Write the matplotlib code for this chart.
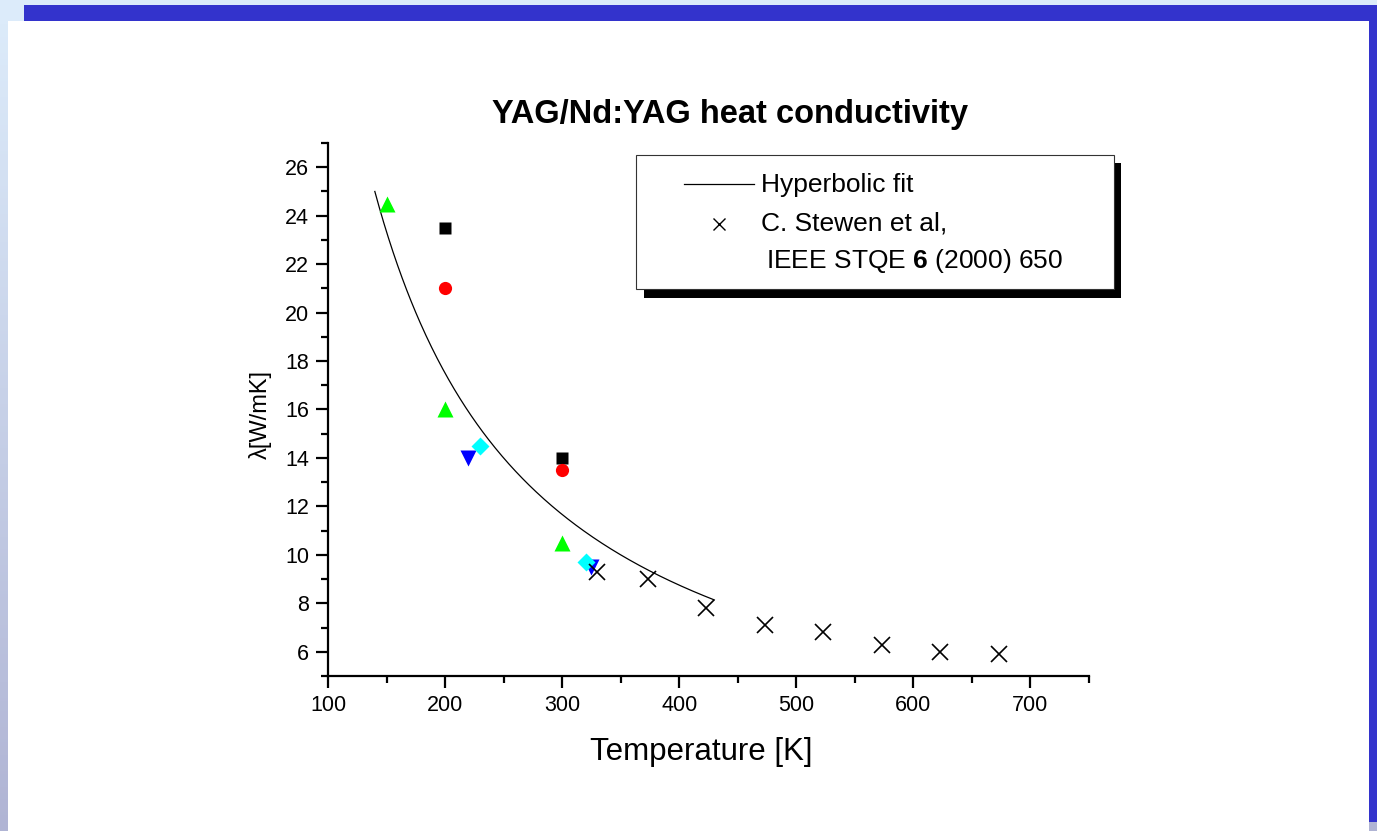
import numpy as np
import matplotlib
matplotlib.use("Agg")
import matplotlib.pyplot as plt
from matplotlib.patches import Rectangle
from matplotlib.lines import Line2D

plt.rcParams['font.family'] = ['Liberation Sans', 'DejaVu Sans']
plt.rcParams['mathtext.fontset'] = 'custom'
plt.rcParams['mathtext.rm'] = 'Liberation Sans'
plt.rcParams['mathtext.bf'] = 'Liberation Sans:bold'

# measured points, temperature [K] vs conductivity [W/mK]
sq_T = [200, 300]
sq_k = [23.5, 14.0]
circ_T = [200, 300]
circ_k = [21.0, 13.5]
up_T = [150, 200, 300]
up_k = [24.5, 16.0, 10.5]
down_T = [220, 325]
down_k = [14.0, 9.5]
dia_T = [230, 320]
dia_k = [14.5, 9.7]

# C. Stewen et al. data
stewen_T = [330, 373, 423, 473, 523, 573, 623, 673]
stewen_k = [9.3, 9.0, 7.8, 7.1, 6.8, 6.3, 6.0, 5.9]

# hyperbolic fit  k = A / T
fit_A = 3500.0
fit_Tmin, fit_Tmax = 140, 430

W, H = 1377, 831
fig = plt.figure(figsize=(W / 100, H / 100), dpi=100)
fig.patch.set_facecolor('white')


def fx(x):
    return x / W


def fy(y):
    return 1 - y / H


def prect(x0, y0, x1, y1, color, z=0):
    fig.add_artist(Rectangle((fx(x0), fy(y1)), fx(x1 - x0), (y1 - y0) / H,
                             transform=fig.transFigure, facecolor=color,
                             edgecolor='none', zorder=z))


# slide frame: light strips, blue bar on top, blue strip on the right
prect(0, 0, W, 5, '#dcebfa')
prect(0, 0, 24, 21, '#dcebfa')
prect(24, 5, W, 21, '#3333cc')
prect(1369, 21, W, 822, '#3333cc')
prect(1369, 822, W, H, '#b0b4d4')
grad = fig.add_axes([0, 0, fx(8), fy(21)])
grad.imshow(np.linspace(0, 1, 256).reshape(-1, 1), aspect='auto',
            cmap=matplotlib.colors.LinearSegmentedColormap.from_list(
                'side', ['#dcebfa', '#b0b4d4']), extent=[0, 1, 0, 1])
grad.axis('off')

ax = fig.add_axes([fx(328), fy(676), fx(1089 - 328), (676 - 143) / H])
ax.set_xlim(100, 750)
ax.set_ylim(5, 27)

T = np.linspace(fit_Tmin, fit_Tmax, 300)
ax.plot(T, fit_A / T, color='black', lw=0.9, zorder=2)

ax.plot(sq_T, sq_k, 's', color='black', ms=8.5, mec='none', zorder=3)
ax.plot(circ_T, circ_k, 'o', color='#ff0000', ms=9.5, mec='none', zorder=3)
ax.plot(up_T, up_k, '^', color='#00ff00', ms=11, mec='none', zorder=3)
ax.plot(down_T, down_k, 'v', color='#0000ff', ms=11, mec='none', zorder=3)
ax.plot(dia_T, dia_k, 'D', color='#00ffff', ms=9, mec='none', zorder=3)
ax.plot(stewen_T, stewen_k, 'x', color='black', ms=11, mew=1.2, zorder=4)

for s in ['top', 'right']:
    ax.spines[s].set_visible(False)
for s in ['left', 'bottom']:
    ax.spines[s].set_linewidth(1.6)

ax.set_xticks(range(100, 701, 100))
ax.set_xticks(range(150, 751, 100), minor=True)
ax.set_yticks(range(6, 27, 2))
ax.set_yticks(range(5, 28, 2), minor=True)
ax.tick_params(which='major', direction='out', length=8.5, width=1.6,
               labelsize=15.5, pad=5)
ax.tick_params(which='minor', direction='out', length=5, width=1.6)

ax.set_xlabel('Temperature [K]', fontsize=22.5)
ax.xaxis.set_label_coords(0.49, -0.115)
ax.set_ylabel('λ[W/mK]', fontsize=17)
ax.yaxis.set_label_coords(-0.074, 0.49)

fig.text(fx(730), fy(115), 'YAG/Nd:YAG heat conductivity', fontsize=23.5,
         fontweight='bold', ha='center', va='center')

# legend box with solid drop shadow
prect(644, 163, 1121, 298, 'black', z=5)
fig.add_artist(Rectangle((fx(636), fy(289)), fx(1114 - 636), (289 - 155) / H,
                         transform=fig.transFigure, facecolor='white',
                         edgecolor='#333333', lw=0.8, zorder=6))
fig.add_artist(Line2D([fx(684), fx(754)], [fy(184), fy(184)],
                      transform=fig.transFigure, color='black', lw=0.9,
                      zorder=7))
fig.add_artist(Line2D([fx(719)], [fy(224)], transform=fig.transFigure,
                      marker='x', color='black', ms=8, mew=1.0, ls='none',
                      zorder=7))
fig.text(fx(761), fy(185), 'Hyperbolic fit', fontsize=19, va='center',
         zorder=7)
fig.text(fx(761), fy(224), 'C. Stewen et al,', fontsize=19, va='center',
         zorder=7)
fig.text(fx(766), fy(261), r'IEEE STQE $\mathbf{6}$ (2000) 650', fontsize=19,
         va='center', zorder=7)

fig.savefig('out.png', dpi=100, facecolor=fig.get_facecolor())
